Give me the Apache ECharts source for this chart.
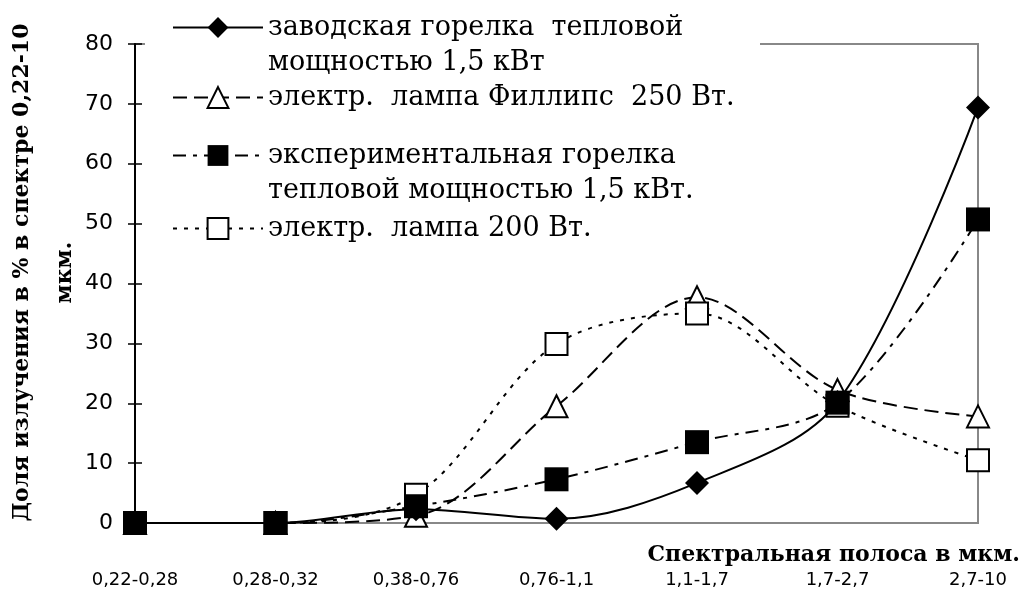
<!DOCTYPE html>
<html>
<head>
<meta charset="utf-8">
<script src="https://cdn.jsdelivr.net/npm/echarts@6/dist/echarts.min.js"></script>
<style>
  html, body { margin: 0; padding: 0; background: #fff; }
  #main { width: 1029px; height: 600px; }
</style>
</head>
<body>
<div id="main"></div>
<script>
// спектральные полосы
var categories = ['0,22-0,28', '0,28-0,32', '0,38-0,76', '0,76-1,1', '1,1-1,7', '1,7-2,7', '2,7-10'];
var yTicks = [0, 80, 10];

var names = [
    'заводская горелка  тепловой\nмощностью 1,5 кВт',
    'электр.  лампа Филлипс  250 Вт.',
    'экспериментальная горелка\nтепловой мощностью 1,5 кВт.',
    'электр.  лампа 200 Вт.'
];

var zavod = [0, 0, 2.3, 0.7, 6.7, 20.2, 69.4];
var philips = [0, 0, 1.2, 19.5, 37.7, 22.2, 17.8];
var exper = [0, 0, 2.8, 7.3, 13.5, 20.1, 50.7];
var lamp200 = [0, 0, 4.7, 29.9, 35, 19.6, 10.5];

var serif = '"DejaVu Serif", serif';
var sans = '"DejaVu Sans", sans-serif';

function legendFor(name, top) {
    return {
        data: [name],
        left: 172,
        top: top,
        padding: 0,
        itemWidth: 90,
        itemHeight: 26,
        selectedMode: false,
        formatter: function (n) {
            // пустая строка сверху, чтобы значок стоял на первой строке
            return n.indexOf('\n') >= 0 ? ' \n' + n : n;
        },
        textStyle: { fontFamily: serif, fontSize: 27, color: '#000', lineHeight: 35 }
    };
}

var option = {
    backgroundColor: '#fff',
    animation: false,
    title: {
        text: 'Спектральная полоса в мкм.',
        right: 4,
        top: 539,
        textStyle: { fontFamily: serif, fontSize: 22, fontWeight: 'bold', color: '#000' }
    },
    legend: [
        legendFor(names[0], -25),
        legendFor(names[1], 80),
        legendFor(names[2], 103),
        legendFor(names[3], 211)
    ],
    graphic: [{
        type: 'rect',
        z: 3,
        shape: { x: 145, y: 40, width: 615, height: 8 },
        style: { fill: '#fff' }
    }],
    grid: {
        left: 135,
        right: 51,
        top: 44,
        bottom: 77,
        outerBoundsMode: 'none',
        show: true,
        borderColor: '#888',
        borderWidth: 2
    },
    xAxis: {
        type: 'category',
        data: categories,
        boundaryGap: false,
        axisLine: { lineStyle: { color: '#888', width: 2 } },
        axisTick: { show: false },
        axisLabel: { margin: 48, fontFamily: sans, fontSize: 18, color: '#000' },
        splitLine: { show: false }
    },
    yAxis: [{
        type: 'value',
        position: 'left',
        min: yTicks[0],
        max: yTicks[1],
        interval: yTicks[2],
        name: 'Доля излучения в % в спектре 0,22-10\nмкм.',
        nameLocation: 'middle',
        nameRotate: 90,
        nameGap: 48,
        nameMoveOverlap: false,
        nameTextStyle: { fontFamily: serif, fontSize: 22, fontWeight: 'bold', color: '#000', lineHeight: 43, padding: [0, 0, 0, 22] },
        axisLine: { show: true, lineStyle: { color: '#000', width: 2 } },
        axisTick: { show: true, length: 7, lineStyle: { color: '#000', width: 1.5 } },
        axisLabel: { margin: 22, fontFamily: sans, fontSize: 22, color: '#000' },
        splitLine: { show: false }
    }, {
        type: 'value',
        position: 'left',
        min: yTicks[0],
        max: yTicks[1],
        interval: yTicks[2],
        axisLine: { show: false },
        axisTick: { show: true, inside: true, length: 7, lineStyle: { color: '#000', width: 1.5 } },
        axisLabel: { show: false },
        splitLine: { show: false }
    }],
    series: [{
        name: names[0],
        type: 'line',
        smooth: 0.33,
        data: zavod,
        symbol: 'diamond',
        symbolSize: 24,
        z: 3,
        lineStyle: { color: '#000', width: 2, type: 'solid' },
        itemStyle: { color: '#000', borderColor: '#000', borderWidth: 0 }
    }, {
        name: names[1],
        type: 'line',
        smooth: 0.33,
        data: philips,
        symbol: 'triangle',
        symbolSize: 22,
        z: 2,
        lineStyle: { color: '#000', width: 2, type: [14, 7] },
        itemStyle: { color: '#fff', borderColor: '#000', borderWidth: 2 }
    }, {
        name: names[2],
        type: 'line',
        smooth: 0.33,
        data: exper,
        symbol: 'rect',
        symbolSize: 24,
        z: 5,
        lineStyle: { color: '#000', width: 2, type: [13, 7, 4, 7] },
        itemStyle: { color: '#000', borderColor: '#000', borderWidth: 0 }
    }, {
        name: names[3],
        type: 'line',
        smooth: 0.33,
        data: lamp200,
        symbol: 'rect',
        symbolSize: 22,
        z: 2,
        lineStyle: { color: '#000', width: 2, type: [4, 7] },
        itemStyle: { color: '#fff', borderColor: '#000', borderWidth: 2 }
    }]
};

var myChart = echarts.init(document.getElementById('main'));
myChart.setOption(option);
</script>
</body>
</html>
